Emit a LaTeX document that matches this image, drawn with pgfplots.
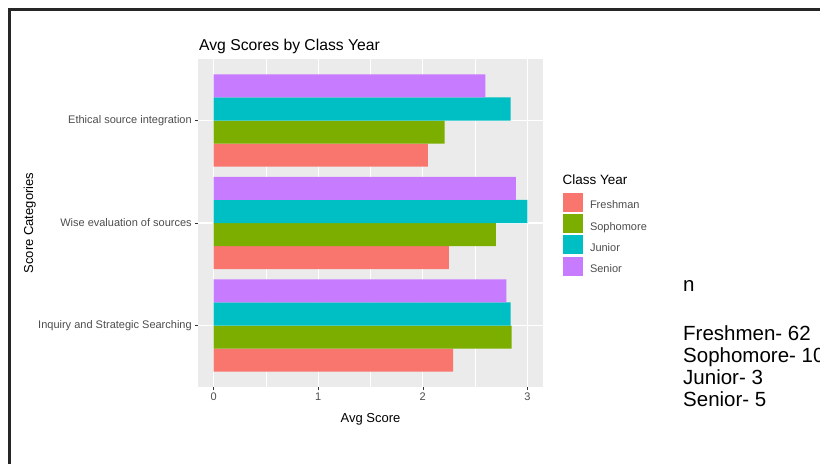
\documentclass[border=0pt]{standalone}
\usepackage{pgfplots}
\pgfplotsset{compat=1.18}
\usepackage{fontspec}
\setmainfont{Liberation Sans}
\definecolor{fr}{HTML}{F8766D}
\definecolor{so}{HTML}{7CAE00}
\definecolor{ju}{HTML}{00BFC4}
\definecolor{se}{HTML}{C77CFF}
\definecolor{panel}{HTML}{EBEBEB}
\definecolor{g30}{HTML}{4D4D4D}
\definecolor{g20}{HTML}{333333}
\newcommand{\fs}[1]{\fontsize{#1pt}{#1pt}\selectfont}
\begin{document}
\begin{tikzpicture}[x=1pt,y=1pt]
\useasboundingbox (0,0) rectangle (820,464);
\fill[white] (0,0) rectangle (820,464);
\draw[line width=2.5pt, black!85] (9.5,0) -- (9.5,454.5) -- (820,454.5);
\begin{axis}[
  at={(198pt,77pt)}, anchor=south west,
  scale only axis, width=345pt, height=328pt,
  xmin=-0.15, xmax=3.15, ymin=0.4, ymax=3.6,
  axis background/.style={fill=panel},
  axis lines*=left, axis line style={draw=none},
  xbar, bar width=0.225,
  ytick={1,2,3},
  yticklabels={Inquiry and Strategic Searching, Wise evaluation of sources, Ethical source integration},
  xtick={0,1,2,3}, minor xtick={0.5,1.5,2.5},
  grid=both,
  major grid style={white, line width=1.1pt},
  minor grid style={white, line width=0.55pt},
  tick align=outside, major tick length=2.75pt, minor tick length=0pt,
  tick style={g20, line width=0.5pt},
  ticklabel style={font=\fs{11}, text=g30},
  /pgf/number format/assume math mode=true,
  legend style={at={(axis description cs:1.058,0.5924)}, anchor=north west,
    draw=none, fill=none, inner sep=0pt, outer sep=0pt, row sep=2.3pt,
    font=\fs{11}, text=g30, nodes={inner sep=0pt},
    /tikz/every odd column/.append style={column sep=7pt}},
  legend cell align=left,
  legend image code/.code={\fill[#1] (0pt,-6pt) rectangle (20pt,13pt);},
]
\addplot[fill=fr, draw=none, bar shift=-0.3375] coordinates {(2.29,1) (2.25,2) (2.05,3)};
\addplot[fill=so, draw=none, bar shift=-0.1125] coordinates {(2.85,1) (2.70,2) (2.21,3)};
\addplot[fill=ju, draw=none, bar shift=0.1125] coordinates {(2.84,1) (3.00,2) (2.84,3)};
\addplot[fill=se, draw=none, bar shift=0.3375] coordinates {(2.80,1) (2.89,2) (2.60,3)};
\legend{Freshman, Sophomore, Junior, Senior}
\end{axis}
\node[anchor=base west, font=\fs{15.7}, inner sep=0pt] at (199,413) {Avg Scores by Class Year};
\node[anchor=base, font=\fs{13}, inner sep=0pt] at (370.5,41.3) {Avg Score};
\node[anchor=base, rotate=90, font=\fs{13}, inner sep=0pt] at (33,241) {Score Categories};
\node[anchor=base west, font=\fs{13.5}, inner sep=0pt] at (562.5,279) {Class Year};
\node[anchor=base west, font=\fs{20.5}, inner sep=0pt] at (683,172) {n};
\node[anchor=base west, font=\fs{20.5}, inner sep=0pt] at (683,123) {Freshmen- 62};
\node[anchor=base west, font=\fs{20.5}, inner sep=0pt] at (683,101) {Sophomore- 10};
\node[anchor=base west, font=\fs{20.5}, inner sep=0pt] at (683,79) {Junior- 3};
\node[anchor=base west, font=\fs{20.5}, inner sep=0pt] at (683,57) {Senior- 5};
\end{tikzpicture}
\end{document}
